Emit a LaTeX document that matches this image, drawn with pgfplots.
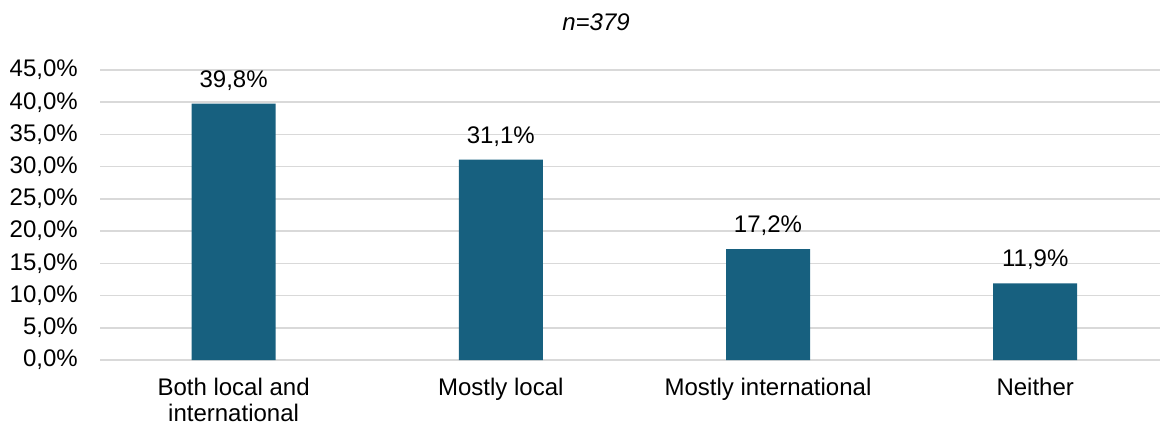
\documentclass[border=0pt]{standalone}
\usepackage{pgfplots}
\pgfplotsset{compat=1.18}
\usepackage{fontspec}
\setmainfont{Liberation Sans}
\definecolor{barblue}{HTML}{17607F}
\definecolor{gridgray}{HTML}{D9D9D9}
\pgfkeys{/pgf/number format/assume math mode=true}
\begin{document}
\fontsize{24bp}{26bp}\selectfont
\begin{tikzpicture}[x=1bp,y=1bp]
\useasboundingbox (0,0) rectangle (1160,426);
\begin{axis}[
  at={(100bp,66bp)}, anchor=south west,
  scale only axis, width=1060bp, height=290bp,
  xmin=-0.5, xmax=3.467, ymin=0, ymax=45,
  ytick={0,5,...,45},
  xtick={0,1,2,3},
  xticklabels={{Both local and\\international},{Mostly local},{Mostly international},{Neither}},
  xticklabel style={align=center, anchor=north, inner sep=0pt, yshift=-18bp},
  yticklabel={\pgfmathprintnumber[fixed,fixed zerofill,precision=1,use comma]{\tick}\%},
  yticklabel style={anchor=east, inner sep=0pt, xshift=-22bp},
  ymajorgrids, grid style={gridgray, line width=1.5bp},
  axis line style={draw=none},
  major tick length=0pt,
  ybar, bar width=84bp,
  nodes near coords={\pgfmathprintnumber[fixed,fixed zerofill,precision=1,use comma]{\pgfplotspointmeta}\%},
  every node near coord/.append style={anchor=base, inner sep=0pt, yshift=16.5bp, text=black},
  clip=false,
]
\addplot[fill=barblue, draw=none] coordinates {(0,39.8) (1,31.1) (2,17.2) (3,11.9)};
\node[anchor=base] at (rel axis cs:0.468,1.1345) {\itshape n=379};
\end{axis}
\end{tikzpicture}
\end{document}
